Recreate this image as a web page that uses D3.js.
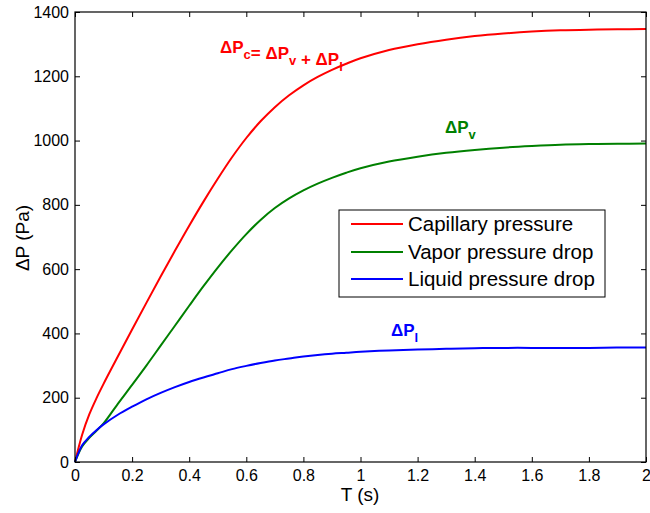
<!DOCTYPE html>
<html>
<head>
<meta charset="utf-8">
<script src="https://cdn.jsdelivr.net/npm/d3@7/dist/d3.min.js"></script>
<style>
  html, body { margin: 0; padding: 0; background: #fff; }
  svg { display: block; font-family: "Liberation Sans", Arial, Helvetica, sans-serif; }
</style>
</head>
<body>
<svg id="chart" width="650" height="513"></svg>
<script>
// Time samples (s)
const timeS = [0, 0.025, 0.05, 0.075, 0.1, 0.15, 0.2, 0.25, 0.3, 0.35, 0.4, 0.45, 0.5,
               0.55, 0.6, 0.65, 0.7, 0.75, 0.8, 0.85, 0.9, 0.95, 1.0,
               1.1, 1.2, 1.3, 1.4, 1.5, 1.6, 1.7, 1.8, 1.9, 2.0];

// Pressure series (Pa)
const capillaryPa = [0, 85, 148, 198, 243, 328, 412, 495, 577, 657, 735, 810, 881,
                     948, 1008, 1060, 1104, 1141, 1172, 1198, 1220, 1239, 1256,
                     1282, 1300, 1314, 1325, 1333, 1339, 1343, 1345, 1346, 1347];
const vaporPa     = [0, 48, 75, 97, 120, 181, 240, 300, 362, 424, 486, 547, 605,
                     659, 709, 753, 790, 820, 845, 866, 884, 900, 914,
                     935, 950, 962, 971, 978, 983, 987, 989, 990, 991];
const liquidPa    = [0, 52, 78, 99, 117, 147, 172, 195, 215, 233, 249, 263, 276,
                     289, 299, 308, 316, 322, 328, 333, 337, 340, 343,
                     347, 350, 352, 354, 355, 355, 355, 355, 356, 356];

const seriesNames  = ["Capillary pressure", "Vapor pressure drop", "Liquid pressure drop"];
const seriesColors = ["#ff0000", "#008000", "#0000ff"];

const xTicks = [0, 0.2, 0.4, 0.6, 0.8, 1, 1.2, 1.4, 1.6, 1.8, 2];
const yTicks = [0, 200, 400, 600, 800, 1000, 1200, 1400];

const svg = d3.select("#chart");
const plot = { left: 75, right: 646, top: 12, bottom: 462 };

const x = d3.scaleLinear().domain([0, 2]).range([plot.left, plot.right]);
const y = d3.scaleLinear().domain([0, 1400]).range([plot.bottom, plot.top]);

// Curves
const series = [capillaryPa, vaporPa, liquidPa];
const line = d3.line()
  .x(d => x(d[0]))
  .y(d => y(d[1]))
  .curve(d3.curveCatmullRom.alpha(0.5));

const curves = svg.append("g");
series.forEach((vals, i) => {
  curves.append("path")
    .datum(timeS.map((t, k) => [t, vals[k]]))
    .attr("fill", "none")
    .attr("stroke", seriesColors[i])
    .attr("stroke-width", 2)
    .attr("stroke-linejoin", "round")
    .attr("d", line);
});

// Axes with inward ticks on all four sides
const tickLen = 5;
const fmtX = d => d3.format("~g")(d);

const axBottom = svg.append("g")
  .attr("transform", `translate(0,${plot.bottom})`)
  .call(d3.axisBottom(x).tickValues(xTicks).tickSizeInner(-tickLen).tickSizeOuter(0)
        .tickPadding(8).tickFormat(fmtX));
const axTop = svg.append("g")
  .attr("transform", `translate(0,${plot.top})`)
  .call(d3.axisTop(x).tickValues(xTicks).tickSizeInner(-tickLen).tickSizeOuter(0).tickFormat(""));
const axLeft = svg.append("g")
  .attr("transform", `translate(${plot.left},0)`)
  .call(d3.axisLeft(y).tickValues(yTicks).tickSizeInner(-tickLen).tickSizeOuter(0)
        .tickPadding(6).tickFormat(d3.format("d")));
const axRight = svg.append("g")
  .attr("transform", `translate(${plot.right},0)`)
  .call(d3.axisRight(y).tickValues(yTicks).tickSizeInner(-tickLen).tickSizeOuter(0).tickFormat(""));

[axBottom, axTop, axLeft, axRight].forEach(g => {
  g.select(".domain").remove();
  g.selectAll(".tick line").attr("stroke", "#000").attr("stroke-width", 1);
  g.selectAll(".tick text")
    .attr("fill", "#000")
    .style("font-size", "16px")
    .style("font-family", "'Liberation Sans', Arial, sans-serif");
});

// Plot frame
svg.append("rect")
  .attr("x", plot.left).attr("y", plot.top)
  .attr("width", plot.right - plot.left).attr("height", plot.bottom - plot.top)
  .attr("fill", "none").attr("stroke", "#000").attr("stroke-width", 1.2);

// Axis titles
svg.append("text")
  .attr("x", 360).attr("y", 501)
  .attr("text-anchor", "middle")
  .style("font-size", "19px")
  .text("T (s)");

svg.append("text")
  .attr("transform", `translate(29,238) rotate(-90)`)
  .attr("text-anchor", "middle")
  .style("font-size", "19px")
  .text("ΔP (Pa)");

// Curve annotations with subscripts
function annotate(px, py, color, parts) {
  const t = svg.append("text")
    .attr("x", px).attr("y", py)
    .attr("fill", color)
    .style("font-size", "17px")
    .style("font-weight", "bold");
  parts.forEach(p => {
    if (p.sub) {
      t.append("tspan").attr("dy", 6).style("font-size", "13px").text(p.sub);
      t.append("tspan").attr("dy", -6).text("");
    } else {
      t.append("tspan").text(p.text);
    }
  });
}

annotate(220, 53, seriesColors[0], [
  { text: "ΔP" }, { sub: "c" }, { text: "= ΔP" }, { sub: "v" }, { text: " + ΔP" }, { sub: "l" }
]);
annotate(445, 133, seriesColors[1], [{ text: "ΔP" }, { sub: "v" }]);
annotate(391, 336, seriesColors[2], [{ text: "ΔP" }, { sub: "l" }]);

// Legend
const legend = { left: 339, top: 210, right: 605, bottom: 297 };
svg.append("rect")
  .attr("x", legend.left).attr("y", legend.top)
  .attr("width", legend.right - legend.left).attr("height", legend.bottom - legend.top)
  .attr("fill", "#fff").attr("stroke", "#000").attr("stroke-width", 1);

const rowY = [224, 252, 279];
seriesNames.forEach((name, i) => {
  svg.append("line")
    .attr("x1", 351).attr("x2", 403)
    .attr("y1", rowY[i]).attr("y2", rowY[i])
    .attr("stroke", seriesColors[i]).attr("stroke-width", 2);
  svg.append("text")
    .attr("x", 408).attr("y", rowY[i])
    .attr("dy", "0.36em")
    .style("font-size", "20.5px")
    .text(name);
});
</script>
</body>
</html>
